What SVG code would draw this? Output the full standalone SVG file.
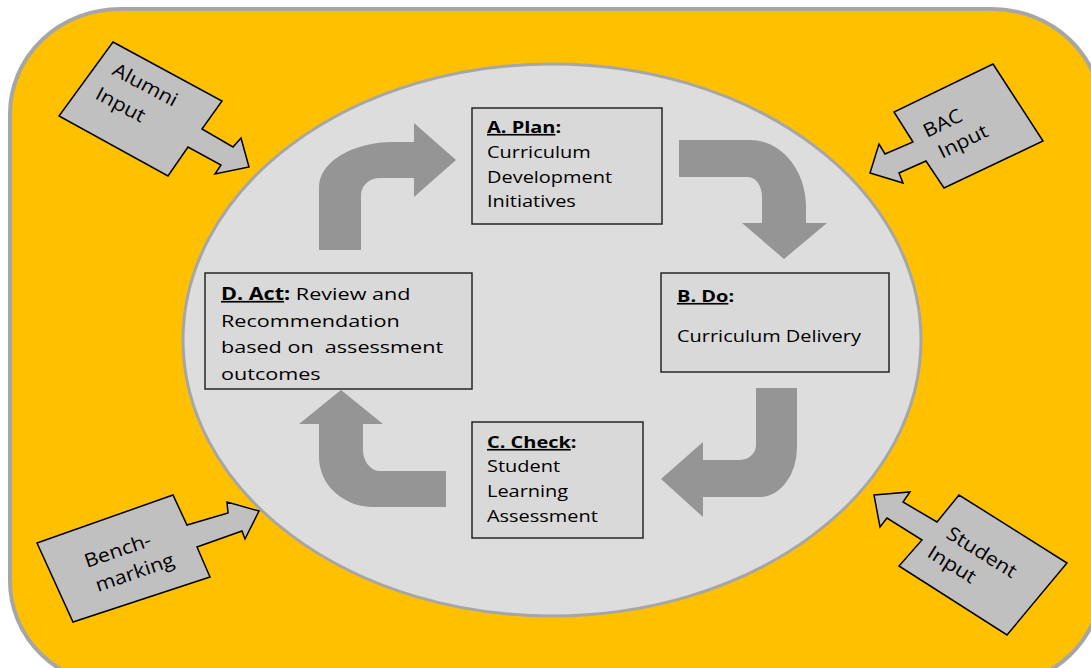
<svg xmlns="http://www.w3.org/2000/svg" width="1091" height="668" viewBox="0 0 1091 668">
<style>
text{font-family:"Open Sans","Liberation Sans",sans-serif;fill:#000}
.box{fill:#d9d9d9;stroke:#262626;stroke-width:1.5}
.t{font-size:16.5px}
.td{font-size:17px}
.b{font-weight:bold}
.u{text-decoration:underline}
.flow{fill:#959595}
.call{fill:#c0c0c0;stroke:#000;stroke-width:1.5;stroke-linejoin:miter}
.ct{font-size:19px}
</style>
<rect x="10" y="9" width="1092" height="677" rx="110" ry="105" fill="#ffc000" stroke="#a6a6a6" stroke-width="4"/>
<ellipse cx="552" cy="340" rx="369" ry="276" fill="#dddddd" stroke="#a6a6a6" stroke-width="3"/>

<g id="connectors">
<path class="flow" d="M319,250 L319,187 A74,45 0 0 1 393,142 L414,142 L414,123 L456,160 L414,197 L414,178 L380,178 A19,17 0 0 0 361,195 L361,250 Z"/>
<path class="flow" d="M679,140 L750,140 A56,67 0 0 1 806,207 L806,223 L827,223 L784,259 L742,223 L762,223 L762,197 A14,20 0 0 0 748,177 L679,177 Z"/>
<path class="flow" d="M756,388 L797,388 L797,447 A37,50 0 0 1 760,497 L703,497 L703,517 L661,479 L703,442 L703,460 L740,460 A16,15 0 0 0 756,445 Z"/>
<path class="flow" d="M446,471 L446,507 L373,507 A54,50 0 0 1 319,457 L319,424 L299,424 L341,390 L383,424 L363,424 L363,450 A17,21 0 0 0 380,471 Z"/>
</g>

<g id="nodeA">
<rect class="box" x="472" y="108" width="190" height="116"/>
<text class="t" transform="translate(487,133) scale(1.21,1)"><tspan class="b u">A. Plan</tspan><tspan class="b">:</tspan></text>
<text class="t" transform="translate(487,158) scale(1.21,1)">Curriculum</text>
<text class="t" transform="translate(487,183) scale(1.21,1)">Development</text>
<text class="t" transform="translate(487,207) scale(1.21,1)">Initiatives</text>
</g>

<g id="nodeB">
<rect class="box" x="661" y="273" width="228" height="99"/>
<text class="t" transform="translate(677,302) scale(1.21,1)"><tspan class="b u">B. Do</tspan><tspan class="b">:</tspan></text>
<text class="t" transform="translate(677,342) scale(1.21,1)">Curriculum Delivery</text>
</g>

<g id="nodeC">
<rect class="box" x="472" y="422" width="171" height="116"/>
<text class="t" transform="translate(487,448) scale(1.21,1)"><tspan class="b u">C. Check</tspan><tspan class="b">:</tspan></text>
<text class="t" transform="translate(487,472) scale(1.21,1)">Student</text>
<text class="t" transform="translate(487,497) scale(1.21,1)">Learning</text>
<text class="t" transform="translate(487,522) scale(1.21,1)">Assessment</text>
</g>

<g id="nodeD">
<rect class="box" x="205" y="273" width="267" height="116"/>
<text class="td" transform="translate(221,300) scale(1.27,1)"><tspan class="b u">D. Act</tspan><tspan class="b">:</tspan> Review and</text>
<text class="td" transform="translate(221,327) scale(1.27,1)">Recommendation</text>
<text class="td" transform="translate(221,353) scale(1.27,1)" xml:space="preserve">based on  assessment</text>
<text class="td" transform="translate(221,380) scale(1.27,1)">outcomes</text>
</g>

<g id="alumni">
<polygon class="call" points="113,42 222,101 202,129 233,147 241,138 249,167 215,174 221,165 188,147 168,176 59,116"/>
<text class="ct" transform="translate(111,74) rotate(28) scale(1.13,1)">Alumni</text>
<text class="ct" transform="translate(94,98) rotate(28) scale(1.13,1)">Input</text>
</g>

<g id="bac">
<polygon class="call" points="993,64 1043,141 944,188 926,161 899,173 903,183 870,173 879,144 885,154 913,142 894,112"/>
<text class="ct" transform="translate(927,138) rotate(-26) scale(1.13,1)">BAC</text>
<text class="ct" transform="translate(942,159) rotate(-26) scale(1.13,1)">Input</text>
</g>

<g id="benchmarking">
<polygon class="call" points="37,543 173,495 187,525 228,513 227,502 259,511 245,539 242,531 197,547 210,577 73,622"/>
<text class="ct" transform="translate(87,568) rotate(-19) scale(1.13,1)">Bench-</text>
<text class="ct" transform="translate(98,592) rotate(-19) scale(1.13,1)">marking</text>
</g>

<g id="student">
<polygon class="call" points="874,495 910,492 903,502 937,522 959,495 1067,563 1007,635 899,566 922,540 887,518 880,527"/>
<text class="ct" transform="translate(945,537) rotate(32) scale(1.13,1)">Student</text>
<text class="ct" transform="translate(926,556) rotate(32) scale(1.13,1)">Input</text>
</g>
</svg>
